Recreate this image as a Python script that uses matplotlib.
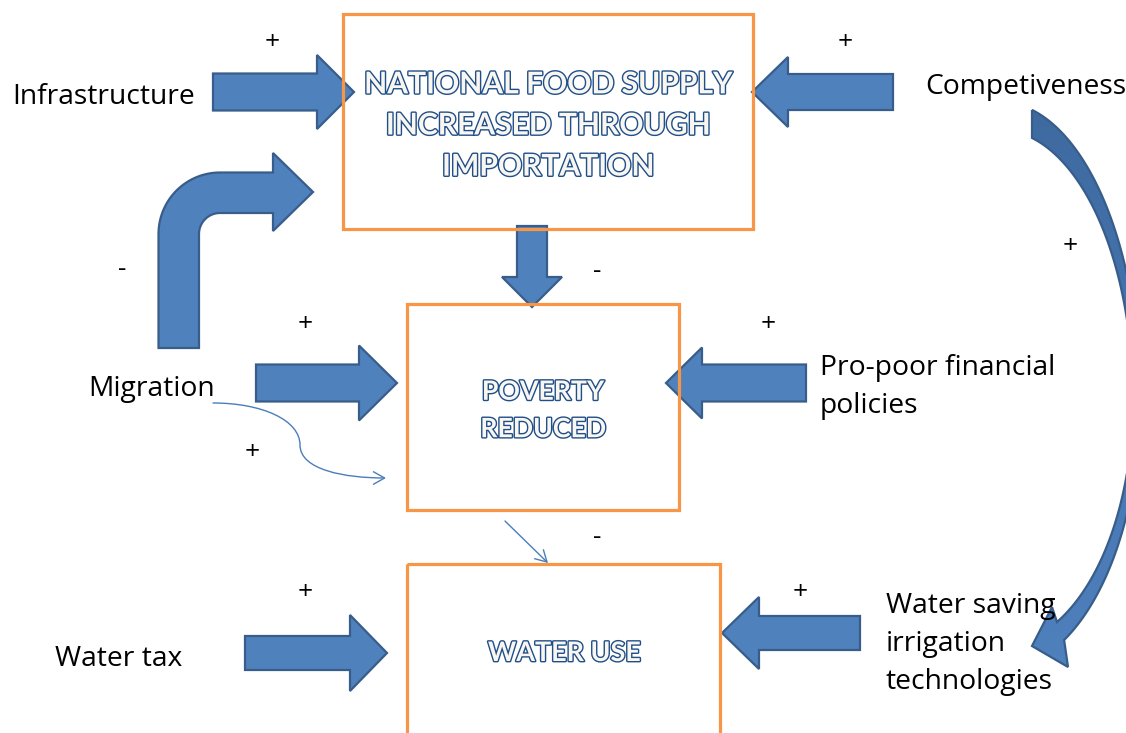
import numpy as np
import matplotlib
matplotlib.use("Agg")
import matplotlib.pyplot as plt
from matplotlib.patches import Polygon, Rectangle, FancyArrowPatch
from matplotlib.path import Path
from matplotlib.colors import LinearSegmentedColormap
import matplotlib.patheffects as pe

# ---------------- content ----------------
box_titles = ["NATIONAL FOOD SUPPLY\nINCREASED THROUGH\nIMPORTATION",
              "POVERTY\nREDUCED",
              "WATER USE"]
factor_labels = ["Infrastructure", "Competiveness", "Migration",
                 "Pro-poor financial\npolicies", "Water tax",
                 "Water saving\nirrigation\ntechnologies"]
plus_signs = ["+"] * 8
minus_signs = ["-"] * 3

# ---------------- layout (pixel coords, y downward) ----------------
W, H = 1126, 733
box_rects = [(343, 14, 410, 215), (407, 304, 272, 206), (407, 564, 313, 190)]
box_text_xy = [(548, 125.5), (543, 410.5), (564, 653)]
box_fontsize = [21.6, 19.2, 19.4]
box_linespacing = [1.57, 1.67, 1.2]

factor_xy = [(12, 97), (925, 87), (88, 389), (820, 387), (55, 659), (886, 644)]
plus_xy = [(272, 43), (845, 43), (1070, 247), (305, 324), (768, 324),
           (252, 453), (305, 593), (800, 593)]
minus_xy = [(122, 269), (597, 271), (597, 538)]

# straight block arrows: (direction, tail, tip, centre, body half, head half, head length)
block_arrows = [
    ("right", 213, 354, 92, 18.5, 37, 37),
    ("left", 893, 752, 92, 18, 35, 36),
    ("right", 256, 397, 383, 18.5, 37.5, 38),
    ("left", 806, 666, 383, 18.5, 35.5, 36),
    ("down", 226, 307, 532, 15, 30, 30),
    ("right", 245, 387, 653, 17, 38, 37),
    ("left", 860, 722, 633, 17, 36, 37),
]

FILL = "#4F81BD"
EDGE = "#385D8A"
ORANGE = "#F79646"

fig = plt.figure(figsize=(W / 100, H / 100), dpi=100)
ax = fig.add_axes([0, 0, 1, 1])
ax.set_xlim(0, W)
ax.set_ylim(H, 0)
ax.axis("off")


def block_arrow(d, tail, tip, c, bh, hh, hl):
    if d in ("right", "left"):
        s = 1 if d == "right" else -1
        base = tip - s * hl
        pts = [(tail, c - bh), (base, c - bh), (base, c - hh), (tip, c),
               (base, c + hh), (base, c + bh), (tail, c + bh)]
    else:
        base = tip - hl
        pts = [(c - bh, tail), (c - bh, base), (c - hh, base), (c, tip),
               (c + hh, base), (c + bh, base), (c + bh, tail)]
    ax.add_patch(Polygon(pts, closed=True, fc=FILL, ec=EDGE, lw=1.6,
                         joinstyle="miter", zorder=2))


for a in block_arrows:
    block_arrow(*a)

# bent (up then right) arrow from Migration
cx, cy, R, r = 220, 234, 61.5, 21
t = np.linspace(0, np.pi / 2, 30)
outer = np.column_stack([cx - R * np.cos(t), cy - R * np.sin(t)])
inner = np.column_stack([cx - r * np.cos(t[::-1]), cy - r * np.sin(t[::-1])])
bent = np.vstack([[(158.5, 348)], outer,
                  [(273, 172.5), (273, 153), (313, 192), (273, 231), (273, 213)],
                  inner, [(199, 348)]])
ax.add_patch(Polygon(bent, closed=True, fc=FILL, ec=EDGE, lw=1.6,
                     joinstyle="miter", zorder=2))


# curved arrow from Competiveness to Water saving technologies
def half_ellipse_pts(ecx, ecy, rx, ry_up, ry_low, th0, th1, n=160):
    th = np.linspace(th0, th1, n)
    c = np.cos(th)
    ry = np.where(c >= 0, ry_up, ry_low)
    return np.column_stack([ecx + rx * np.sin(th), ecy - ry * c])


ecx, ecy = 1000, 400
o_rx, o_up, o_low = 140, 298, 270
i_rx, i_up, i_low = 133, 270, 245.7
out_pts = half_ellipse_pts(ecx, ecy, o_rx, o_up, o_low,
                           np.arcsin(32 / o_rx), np.arccos(-240 / o_low))
in_pts = half_ellipse_pts(ecx, ecy, i_rx, i_up, i_low,
                          np.arccos(-222 / i_low), np.arcsin(32 / i_rx))
head = np.array([(1068, 667), (1032, 646), (1052, 607)])
curve = np.vstack([out_pts, head, in_pts])
cpatch = Polygon(curve, closed=True, fc="none", ec=EDGE, lw=1.6, zorder=3)
ax.add_patch(cpatch)
grad = np.linspace(0, 1, 256).reshape(-1, 1)
cmap = LinearSegmentedColormap.from_list("g", ["#3E6A9F", "#4675B2", "#4F81BD"])
im = ax.imshow(grad, extent=(1000, 1150, 680, 100), cmap=cmap, aspect="auto", zorder=2)
im.set_clip_path(cpatch)
ax.set_xlim(0, W)
ax.set_ylim(H, 0)

# thin connector arrows
verts = [(213, 403), (262, 403), (300, 420), (300, 445),
         (300, 470), (345, 478), (386, 478)]
codes = [Path.MOVETO, Path.CURVE4, Path.CURVE4, Path.CURVE4,
         Path.CURVE4, Path.CURVE4, Path.CURVE4]
ax.add_patch(FancyArrowPatch(path=Path(verts, codes),
                             arrowstyle="->,head_length=0.8,head_width=0.45",
                             mutation_scale=10, color="#4A7EBB", lw=1.0, zorder=3))
ax.add_patch(FancyArrowPatch((505, 521), (548, 563),
                             arrowstyle="->,head_length=0.8,head_width=0.45",
                             mutation_scale=10, color="#4A7EBB", lw=1.0,
                             shrinkA=0, shrinkB=0, zorder=3))

# boxes (edges on top of arrow tips)
for (x, y, w, h) in box_rects:
    ax.add_patch(Rectangle((x, y), w, h, fc="none", ec=ORANGE, lw=2.3, zorder=4))

# outlined titles
for txt, (x, y), fs, ls in zip(box_titles, box_text_xy, box_fontsize, box_linespacing):
    ax.text(x, y, txt, ha="center", va="center", fontsize=fs, fontweight="bold",
            family=["Lato", "DejaVu Sans"], color="#F8F6EE",
            linespacing=ls, zorder=5,
            path_effects=[pe.withStroke(linewidth=2.0, foreground="#1F4E8A")])

# factor labels
for txt, (x, y) in zip(factor_labels, factor_xy):
    ax.text(x, y, txt, ha="left", va="center", fontsize=20.3,
            family=["Open Sans", "DejaVu Sans"], color="black",
            linespacing=1.5, zorder=5)

for s, (x, y) in zip(plus_signs, plus_xy):
    ax.text(x, y, s, ha="center", va="center", fontsize=19,
            family=["Open Sans", "DejaVu Sans"], color="black", zorder=5)
for s, (x, y) in zip(minus_signs, minus_xy):
    ax.text(x, y, s, ha="center", va="center", fontsize=19,
            family=["Open Sans", "DejaVu Sans"], color="black", zorder=5)

fig.savefig("out.png", dpi=100)
